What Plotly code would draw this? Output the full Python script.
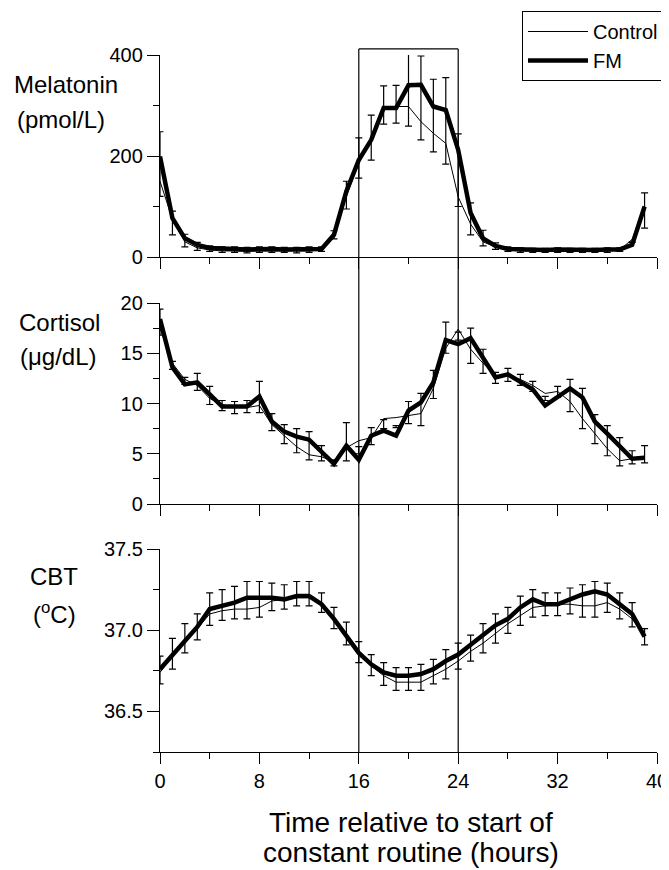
import plotly.graph_objects as go

hours = list(range(40))

mel_fm = [199, 77, 37, 24, 18, 16, 16, 15, 16, 16, 15, 15, 16, 16, 44, 130, 192, 232, 295, 295,
          340, 341, 298, 291, 212, 87, 37, 22, 16, 15, 14, 14, 15, 14, 14, 14, 15, 15, 24, 100]
mel_ctrl = [150, 75, 30, 18, 14, 12, 12, 11, 12, 12, 12, 11, 12, 14, 42, 120, 188, 228, 296, 298,
            298, 268, 245, 225, 119, 65, 30, 20, 14, 12, 12, 12, 12, 12, 12, 12, 12, 14, 35, 95]
mel_fm_up = [49, 14, 8, 5, 4, 4, 4, 4, 4, 4, 4, 4, 4, 4, 8, 20, 44, 49, 44, 45,
             70, 57, 54, 64, 32, 20, 16, 6, 4, 3, 3, 3, 3, 3, 3, 3, 3, 3, 6, 27]
mel_ctrl_dn = [30, 31, 10, 5, 3, 3, 3, 3, 3, 3, 3, 3, 3, 3, 6, 25, 32, 36, 33, 33,
               39, 36, 37, 41, 19, 21, 8, 5, 3, 3, 3, 3, 3, 3, 3, 3, 3, 3, 6, 38]

cort_fm = [18.4, 13.6, 11.9, 12.1, 10.9, 9.7, 9.7, 9.7, 10.7, 8.2, 7.2, 6.7, 6.4, 5.2, 4.0, 5.8,
           4.4, 6.8, 7.3, 6.8, 9.3, 10.1, 12.1, 16.3, 15.9, 16.5, 14.6, 12.6, 12.9, 12.1, 11.4,
           9.8, 10.7, 11.5, 10.6, 8.2, 7.0, 5.8, 4.5, 4.6]
cort_ctrl = [17.5, 14.0, 12.4, 11.8, 10.5, 9.9, 9.6, 9.6, 9.8, 7.9, 6.8, 5.7, 4.9, 4.7, 4.2, 5.6,
             6.3, 6.6, 8.5, 8.6, 8.8, 9.0, 11.5, 15.5, 17.4, 15.4, 14.0, 12.8, 12.8, 12.4, 11.8,
             11.0, 11.2, 10.2, 8.5, 7.0, 5.5, 4.3, 4.5, 4.6]
cort_fm_up = [1.0, 0.6, 0.7, 0.9, 0.8, 0.6, 0.5, 0.6, 1.5, 0.8, 0.7, 0.8, 0.8, 0.6, 0.4, 2.3,
              0.6, 0.8, 1.1, 1.0, 0.9, 0.9, 1.2, 1.8, 1.2, 1.0, 0.8, 0.5, 0.6, 0.8, 0.8,
              0.9, 1.0, 0.9, 0.9, 0.7, 0.8, 0.8, 0.8, 1.2]
cort_ctrl_dn = [0.7, 0.6, 0.5, 0.5, 0.6, 0.6, 0.6, 0.5, 0.7, 0.6, 0.8, 0.6, 0.5, 0.4, 0.4, 1.3,
                0.6, 0.7, 1.0, 1.0, 0.8, 1.2, 1.0, 0.5, 1.1, 1.4, 1.0, 0.8, 0.6, 0.6, 0.6,
                0.7, 0.6, 1.0, 1.0, 1.0, 0.7, 0.5, 0.5, 0.5]

cbt_fm = [36.76, 36.85, 36.94, 37.02, 37.13, 37.15, 37.17, 37.20, 37.20, 37.20, 37.19, 37.21,
          37.21, 37.16, 37.07, 36.97, 36.86, 36.79, 36.74, 36.72, 36.72, 36.73, 36.76, 36.81,
          36.85, 36.91, 36.97, 37.03, 37.07, 37.14, 37.19, 37.16, 37.16, 37.19, 37.22, 37.24,
          37.22, 37.16, 37.10, 36.96]
cbt_ctrl = [36.74, 36.84, 36.93, 37.01, 37.10, 37.12, 37.13, 37.13, 37.14, 37.18, 37.19, 37.20,
            37.20, 37.16, 37.07, 36.97, 36.86, 36.78, 36.72, 36.68, 36.68, 36.68, 36.72, 36.76,
            36.81, 36.87, 36.92, 36.98, 37.04, 37.09, 37.14, 37.15, 37.16, 37.16, 37.15, 37.15,
            37.17, 37.13, 37.07, 36.96]
cbt_fm_up = [0.08, 0.10, 0.10, 0.08, 0.10, 0.10, 0.10, 0.10, 0.10, 0.09, 0.09, 0.09, 0.09, 0.07,
             0.07, 0.08, 0.07, 0.06, 0.06, 0.05, 0.05, 0.06, 0.06, 0.07, 0.07, 0.06, 0.07, 0.07,
             0.07, 0.07, 0.06, 0.07, 0.07, 0.07, 0.06, 0.06, 0.07, 0.07, 0.07, 0.05]
cbt_ctrl_dn = [0.07, 0.08, 0.07, 0.07, 0.07, 0.06, 0.06, 0.06, 0.06, 0.06, 0.06, 0.05, 0.05, 0.05,
               0.06, 0.06, 0.06, 0.06, 0.06, 0.05, 0.05, 0.05, 0.05, 0.06, 0.05, 0.06, 0.06, 0.06,
               0.06, 0.06, 0.06, 0.06, 0.07, 0.06, 0.07, 0.07, 0.06, 0.06, 0.05, 0.05]

panel_labels = [("Melatonin", "(pmol/L)"), ("Cortisol", "(μg/dL)"), ("CBT", "(<sup>o</sup>C)")]
x_tickvals = [0, 8, 16, 24, 32, 40]
marked_window = [16, 24]
legend_names = ["Control", "FM"]
x_title_lines = ["Time relative to start of", "constant routine (hours)"]

FONT = "Liberation Sans, Arial, Helvetica, sans-serif"
OFF = 8  # page body margin
W, H = 669 - OFF, 870 - OFF
ML, MR, MT, MB = 160 - OFF, 12, 40 - OFF, 118
PH = H - MT - MB
PW = W - ML - MR


def py(px):
    # screen pixel row -> paper y
    return (H - MB - (px - OFF)) / PH


def pxx(px):
    # screen pixel column -> paper x
    return (px - OFF - ML) / PW


domains = [[py(257), py(55)], [py(504), py(303)], [0, py(549)]]

fig = go.Figure()
series = [
    (mel_ctrl, mel_fm, mel_fm_up, mel_ctrl_dn),
    (cort_ctrl, cort_fm, cort_fm_up, cort_ctrl_dn),
    (cbt_ctrl, cbt_fm, cbt_fm_up, cbt_ctrl_dn),
]
for i, (ctrl, fm, up, dn) in enumerate(series):
    xa = "x" if i == 0 else f"x{i+1}"
    ya = "y" if i == 0 else f"y{i+1}"
    fig.add_trace(go.Scatter(
        x=hours, y=ctrl, mode="lines", name=legend_names[0],
        line=dict(color="black", width=1), xaxis=xa, yaxis=ya,
        showlegend=(i == 0)))
    minus = [f - c + d for f, c, d in zip(fm, ctrl, dn)]
    fig.add_trace(go.Scatter(
        x=hours, y=fm, mode="lines", name=legend_names[1],
        line=dict(color="black", width=4.5), xaxis=xa, yaxis=ya,
        error_y=dict(type="data", symmetric=False, array=up, arrayminus=minus,
                     color="black", thickness=1.2, width=3.5),
        showlegend=(i == 0)))

axis_common = dict(showline=True, linecolor="black", linewidth=1.3, showgrid=False,
                   zeroline=False, ticks="outside", tickcolor="black", tickwidth=1.3,
                   tickfont=dict(family=FONT, size=20, color="black"))

layout = dict(
    width=W, height=H, margin=dict(l=ML, r=MR, t=MT, b=MB, autoexpand=False),
    paper_bgcolor="white", plot_bgcolor="white",
    font=dict(family=FONT, color="black"),
    legend=dict(x=pxx(522), y=py(11), xanchor="left", yanchor="top",
                bordercolor="black", borderwidth=1, bgcolor="white",
                font=dict(family=FONT, size=20, color="black"),
                itemwidth=60, tracegroupgap=0),
)

for i in range(3):
    xk = "xaxis" if i == 0 else f"xaxis{i+1}"
    yk = "yaxis" if i == 0 else f"yaxis{i+1}"
    ya = "y" if i == 0 else f"y{i+1}"
    xa = "x" if i == 0 else f"x{i+1}"
    layout[xk] = dict(axis_common, domain=[0, 1], anchor=ya, range=[0, 40],
                      tickvals=x_tickvals, ticklen=11, showticklabels=(i == 2),
                      ticklabelstandoff=0,
                      minor=dict(tickvals=[4, 12, 20, 28, 36], ticklen=6, ticks="outside",
                                 tickcolor="black", tickwidth=1.3))
    ydict = dict(axis_common, domain=domains[i], anchor=xa, ticklen=12)
    if i == 0:
        ydict.update(range=[0, 400], tickvals=[0, 200, 400],
                     minor=dict(tickvals=[100, 300], ticklen=6, ticks="outside",
                                tickcolor="black", tickwidth=1.3))
    elif i == 1:
        ydict.update(range=[0, 20], tickvals=[0, 5, 10, 15, 20],
                     minor=dict(tickvals=[2.5, 7.5, 12.5, 17.5], ticklen=6, ticks="outside",
                                tickcolor="black", tickwidth=1.3))
    else:
        ydict.update(range=[36.25, 37.5], tickvals=[36.5, 37.0, 37.5], tickformat=".1f",
                     minor=dict(tickvals=[36.25, 36.75, 37.25], ticklen=6, ticks="outside",
                                tickcolor="black", tickwidth=1.3))
    layout[yk] = ydict

fig.update_layout(**layout)

# window box and vertical lines
top_y = domains[0][0] + (412 / 400) * (domains[0][1] - domains[0][0])
for xv in marked_window:
    fig.add_shape(type="line", xref="x3", yref="paper", x0=xv, x1=xv, y0=0, y1=top_y,
                  line=dict(color="black", width=1.2))
fig.add_shape(type="line", xref="x3", yref="paper", x0=marked_window[0], x1=marked_window[1],
              y0=top_y, y1=top_y, line=dict(color="black", width=1.2))

# panel labels
label_pos = [((12, 84), (15, 119)), ((17, 322), (18, 356)), ((28, 576), (31, 613))]
for (l1, l2), ((x1, y1), (x2, y2)) in zip(panel_labels, label_pos):
    fig.add_annotation(text=l1, xref="paper", yref="paper", x=pxx(x1), y=py(y1),
                       xanchor="left", yanchor="middle", showarrow=False,
                       font=dict(family=FONT, size=24, color="black"))
    fig.add_annotation(text=l2, xref="paper", yref="paper", x=pxx(x2), y=py(y2),
                       xanchor="left", yanchor="middle", showarrow=False,
                       font=dict(family=FONT, size=24, color="black"))

for line, yy in zip(x_title_lines, [822, 852]):
    fig.add_annotation(text=line, xref="paper", yref="paper", x=pxx(411), y=py(yy),
                       xanchor="center", yanchor="middle", showarrow=False,
                       font=dict(family=FONT, size=28, color="black"))

fig.write_html("out.html")
